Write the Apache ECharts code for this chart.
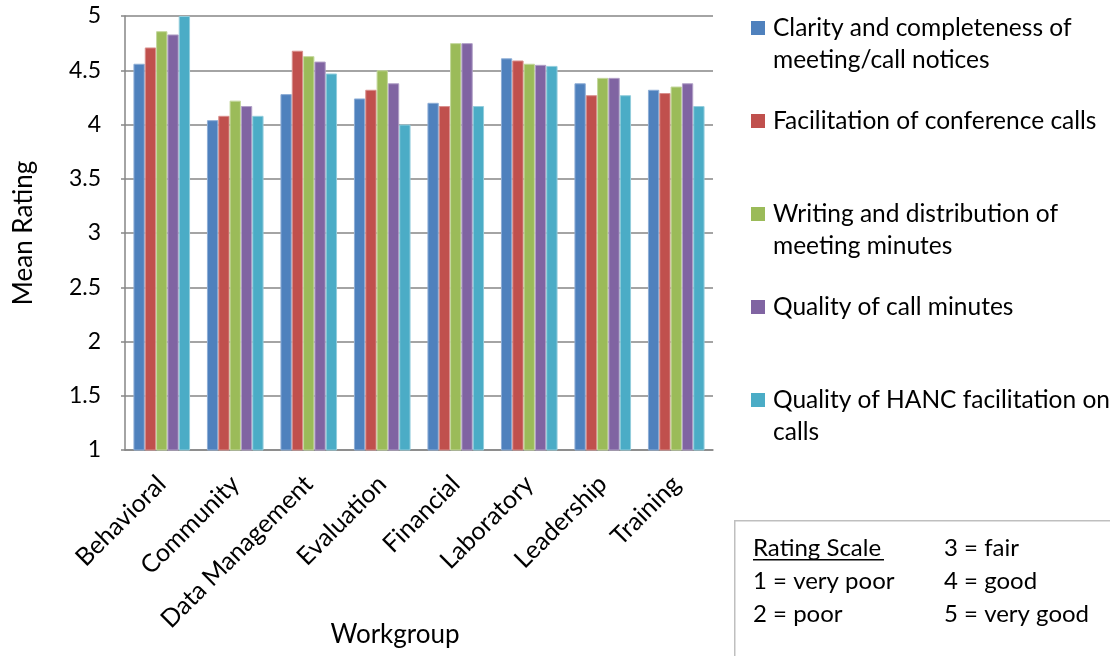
<!DOCTYPE html>
<html>
<head>
<meta charset="utf-8">
<script src="https://cdn.jsdelivr.net/npm/echarts@6/dist/echarts.min.js"></script>
<style>html,body{margin:0;padding:0;background:#fff;}#c{width:1110px;height:656px;}</style>
</head>
<body>
<div id="c"></div>
<script>
const categories = ['Behavioral','Community','Data Management','Evaluation','Financial','Laboratory','Leadership','Training'];
const seriesNames = [
  'Clarity and completeness of meeting/call notices',
  'Facilitation of conference calls',
  'Writing and distribution of meeting minutes',
  'Quality of call minutes',
  'Quality of HANC facilitation on calls'
];
const legendLabels = [
  'Clarity and completeness of\nmeeting/call notices',
  'Facilitation of conference calls',
  'Writing and distribution of\nmeeting minutes',
  'Quality of call minutes',
  'Quality of HANC facilitation on\ncalls'
];
const clarity     = [4.56, 4.04, 4.28, 4.24, 4.20, 4.61, 4.38, 4.32];
const facilitation= [4.71, 4.08, 4.68, 4.32, 4.17, 4.59, 4.27, 4.29];
const writing     = [4.86, 4.22, 4.63, 4.50, 4.75, 4.56, 4.43, 4.35];
const quality     = [4.83, 4.17, 4.58, 4.38, 4.75, 4.55, 4.43, 4.38];
const hanc        = [5.00, 4.08, 4.47, 4.00, 4.17, 4.54, 4.27, 4.17];
const yTicks = [1, 1.5, 2, 2.5, 3, 3.5, 4, 4.5, 5];
const xAxisTitle = 'Workgroup';
const scaleLeft = ['Rating Scale', '1 = very poor', '2 = poor'];
const scaleRight = ['3 = fair', '4 = good', '5 = very good'];

const values = [clarity, facilitation, writing, quality, hanc];
const colors = ['#4F81BD', '#C0504D', '#9BBB59', '#8064A2', '#4BACC6'];
const borders = ['#8eaed6', '#d98f8d', '#c3d79c', '#b1a0c7', '#92cddc'];
const FONT = 'Lato, "Open Sans", sans-serif';

const chart = echarts.init(document.getElementById('c'), null, {renderer: 'canvas'});

const legendTops = [12, 105, 198, 291, 384];
const twoLine = legendLabels.map(l => l.indexOf('\n') >= 0);
const legends = seriesNames.map((n, i) => ({
  show: true,
  orient: 'vertical',
  left: 751,
  top: legendTops[i],
  padding: 0,
  itemWidth: 14,
  itemHeight: twoLine[i] ? 46 : 14,
  itemGap: 0,
  icon: twoLine[i] ? 'path://M0,0L14,0L14,14L0,14Z M0,46L0.01,46L0,46Z' : 'rect',
  itemStyle: {borderWidth: 0},
  selectedMode: false,
  data: [n],
  formatter: name => legendLabels[seriesNames.indexOf(name)],
  textStyle: {fontFamily: FONT, fontSize: 24.5, color: '#000', lineHeight: 32, padding: [0,0,0,3]}
}));

const option = {
  animation: false,
  backgroundColor: '#fff',
  textStyle: {fontFamily: FONT},
  legend: legends,
  grid: {left: 125, right: 397, top: 16, bottom: 206, containLabel: false, outerBoundsMode: 'none'},
  xAxis: {
    type: 'category',
    data: categories,
    axisLine: {lineStyle: {color: '#868686', width: 1.5}},
    axisTick: {show: false},
    axisLabel: {rotate: 45, interval: 0, margin: 30, fontFamily: FONT, fontSize: 25, color: '#000'}
  },
  yAxis: {
    type: 'value',
    min: 1, max: 5, interval: 0.5,
    name: 'Mean Rating',
    nameLocation: 'middle',
    nameGap: 88,
    nameTextStyle: {fontFamily: FONT, fontSize: 26, color: '#000'},
    axisLine: {show: true, lineStyle: {color: '#868686', width: 1.5}},
    axisTick: {show: true, length: 4, lineStyle: {color: '#868686', width: 1.5}},
    splitLine: {lineStyle: {color: '#868686', width: 1.5}},
    axisLabel: {
      margin: 24, fontFamily: FONT, fontSize: 23, color: '#000',
      formatter: v => yTicks.indexOf(v) >= 0 ? String(v) : ''
    }
  },
  series: seriesNames.map((n, i) => ({
    name: n,
    type: 'bar',
    data: values[i],
    barGap: '0%',
    barCategoryGap: '23%',
    itemStyle: {color: colors[i], borderColor: borders[i], borderWidth: 1}
  })),
  graphic: [
    {type: 'text', x: 395, y: 635, z: 2,
     style: {text: xAxisTitle, font: '26px ' + FONT, fill: '#000', align: 'center', verticalAlign: 'middle'}},
    {type: 'rect', left: 734, top: 520, shape: {width: 400, height: 160},
     style: {fill: '#fff', stroke: '#bfbfbf', lineWidth: 1.5}, z: 1},
    {type: 'text', left: 753, top: 532, z: 2,
     style: {text: scaleLeft.join('\n'), font: '24px ' + FONT, fill: '#000', lineHeight: 33}},
    {type: 'rect', left: 753, top: 559, shape: {width: 131, height: 1.5}, style: {fill: '#000'}, z: 2},
    {type: 'text', left: 944, top: 532, z: 2,
     style: {text: scaleRight.join('\n'), font: '24px ' + FONT, fill: '#000', lineHeight: 33}}
  ]
};
chart.setOption(option);
</script>
</body>
</html>
